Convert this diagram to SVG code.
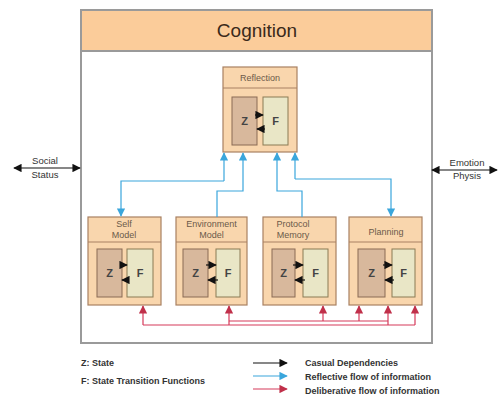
<svg xmlns="http://www.w3.org/2000/svg" width="498" height="400" viewBox="0 0 498 400">
<style>
text{font-family:"Liberation Sans",Arial,sans-serif;fill:#333}
.box{fill:#f9d6ad;stroke:#a88062;stroke-width:1.2}
.z{fill:#d8b89c;stroke:#8a6a55;stroke-width:1}
.f{fill:#e9e6c6;stroke:#8a7a55;stroke-width:1}
.hd{font-size:9px;fill:#6b5a4a}
.zf{font-size:11px;font-weight:bold;fill:#444}
.blue{stroke:#3aa6dc;stroke-width:1.2;fill:none}
.red{stroke:#d63a5a;stroke-width:1.2;fill:none}
.blk{stroke:#111;stroke-width:1.2;fill:none}
.leg{font-size:9px;font-weight:bold;fill:#333}
</style>
<defs>
<marker id="ab" viewBox="0 0 10 10" refX="9" refY="5" markerWidth="7" markerHeight="7" orient="auto"><path d="M0,0L10,5L0,10z" fill="#3aa6dc"/></marker>
<marker id="ar" viewBox="0 0 10 10" refX="9" refY="5" markerWidth="7" markerHeight="7" orient="auto"><path d="M0,0L10,5L0,10z" fill="#c0304a"/></marker>
<marker id="ak" viewBox="0 0 10 10" refX="9" refY="5" markerWidth="7" markerHeight="7" orient="auto"><path d="M0,0L10,5L0,10z" fill="#111"/></marker>
<marker id="aks" viewBox="0 0 10 10" refX="1" refY="5" markerWidth="7" markerHeight="7" orient="auto"><path d="M10,0L0,5L10,10z" fill="#111"/></marker>
</defs>
<rect width="498" height="400" fill="#fff"/>
<g id="cognition">
<rect x="81" y="10" width="351" height="333" fill="#fff" stroke="#9a9a9a" stroke-width="2"/>
<rect x="81" y="10" width="351" height="41" fill="#fbcc9a" stroke="#9a9a9a" stroke-width="2"/>
<text x="257" y="37" font-size="19" text-anchor="middle" style="fill:#3a2a1a">Cognition</text>
</g>
<g id="reflection">
<rect class="box" x="223" y="67" width="74" height="85"/>
<line x1="223" y1="88" x2="297" y2="88" stroke="#a88062"/>
<text class="hd" x="260" y="81" text-anchor="middle">Reflection</text>
<rect class="z" x="232" y="97" width="25" height="48"/>
<rect class="f" x="263" y="97" width="25" height="48"/>
<text class="zf" x="244.5" y="125" text-anchor="middle">Z</text>
<text class="zf" x="275.5" y="125" text-anchor="middle">F</text>
</g>
<g id="self-model">
<rect class="box" x="88" y="217" width="73" height="88"/>
<line x1="88" y1="242" x2="161" y2="242" stroke="#a88062"/>
<text class="hd" x="124" y="227" text-anchor="middle">Self</text>
<text class="hd" x="124" y="238" text-anchor="middle">Model</text>
<rect class="z" x="97" y="249" width="25" height="48"/>
<rect class="f" x="127" y="249" width="26" height="48"/>
<text class="zf" x="109.5" y="277" text-anchor="middle">Z</text>
<text class="zf" x="140" y="277" text-anchor="middle">F</text>
</g>
<g id="environment-model">
<rect class="box" x="176" y="217" width="71" height="88"/>
<line x1="176" y1="242" x2="247" y2="242" stroke="#a88062"/>
<text class="hd" x="211.5" y="227" text-anchor="middle">Environment</text>
<text class="hd" x="211.5" y="238" text-anchor="middle">Model</text>
<rect class="z" x="183" y="249" width="25" height="48"/>
<rect class="f" x="216" y="249" width="24" height="48"/>
<text class="zf" x="195.5" y="277" text-anchor="middle">Z</text>
<text class="zf" x="228" y="277" text-anchor="middle">F</text>
</g>
<g id="protocol-memory">
<rect class="box" x="263" y="217" width="73" height="88"/>
<line x1="263" y1="242" x2="336" y2="242" stroke="#a88062"/>
<text class="hd" x="293" y="227" text-anchor="middle">Protocol</text>
<text class="hd" x="293" y="238" text-anchor="middle">Memory</text>
<rect class="z" x="272" y="249" width="23" height="48"/>
<rect class="f" x="303" y="249" width="25" height="48"/>
<text class="zf" x="283.5" y="277" text-anchor="middle">Z</text>
<text class="zf" x="315.5" y="277" text-anchor="middle">F</text>
</g>
<g id="planning">
<rect class="box" x="349" y="217" width="73" height="88"/>
<line x1="349" y1="242" x2="422" y2="242" stroke="#a88062"/>
<text class="hd" x="386" y="235" text-anchor="middle">Planning</text>
<rect class="z" x="358" y="249" width="27" height="48"/>
<rect class="f" x="392" y="249" width="23" height="48"/>
<text class="zf" x="371.5" y="277" text-anchor="middle">Z</text>
<text class="zf" x="403.5" y="277" text-anchor="middle">F</text>
</g>
<g id="social-status">
<text x="45" y="164" font-size="9.5" text-anchor="middle">Social</text>
<text x="45" y="178" font-size="9.5" text-anchor="middle">Status</text>
</g>
<g id="emotion-physis">
<text x="467" y="166" font-size="9.5" text-anchor="middle">Emotion</text>
<text x="467" y="179" font-size="9.5" text-anchor="middle">Physis</text>
</g>
<g id="legend">
<text class="leg" x="81" y="366">Z: State</text>
<text class="leg" x="81" y="384">F: State Transition Functions</text>
<text class="leg" x="305" y="366">Casual Dependencies</text>
<text class="leg" x="305" y="380">Reflective flow of information</text>
<text class="leg" x="305" y="394">Deliberative flow of information</text>
</g>
<g id="connectors">
<!-- internal causal arrows -->
<line class="blk" x1="255" y1="115" x2="263" y2="115" marker-end="url(#ak)"/>
<line class="blk" x1="265" y1="129" x2="257" y2="129" marker-end="url(#ak)"/>
<line class="blk" x1="120" y1="265" x2="127" y2="265" marker-end="url(#ak)"/>
<line class="blk" x1="129" y1="280" x2="122" y2="280" marker-end="url(#ak)"/>
<line class="blk" x1="206" y1="265" x2="216" y2="265" marker-end="url(#ak)"/>
<line class="blk" x1="218" y1="280" x2="208" y2="280" marker-end="url(#ak)"/>
<line class="blk" x1="293" y1="265" x2="303" y2="265" marker-end="url(#ak)"/>
<line class="blk" x1="305" y1="280" x2="295" y2="280" marker-end="url(#ak)"/>
<line class="blk" x1="383" y1="265" x2="392" y2="265" marker-end="url(#ak)"/>
<line class="blk" x1="394" y1="280" x2="385" y2="280" marker-end="url(#ak)"/>
<!-- external -->
<line class="blk" x1="14" y1="168" x2="80" y2="168" marker-start="url(#aks)" marker-end="url(#ak)"/>
<line class="blk" x1="432" y1="170" x2="497" y2="170" marker-start="url(#aks)" marker-end="url(#ak)"/>
<!-- blue reflective -->
<path class="blue" d="M224,181 V153" marker-end="url(#ab)"/>
<path class="blue" d="M224,181 H121 V216" marker-end="url(#ab)"/>
<path class="blue" d="M217,217 V191 H243 V153" marker-end="url(#ab)"/>
<path class="blue" d="M302,217 V191 H277 V153" marker-end="url(#ab)"/>
<path class="blue" d="M295,179 V153" marker-end="url(#ab)"/>
<path class="blue" d="M295,179 H391 V216" marker-end="url(#ab)"/>
<!-- red deliberative -->
<path class="red" d="M143,325 H415"/>
<path class="red" d="M229,321 H388"/>
<path class="red" d="M143,325 V306" marker-end="url(#ar)"/>
<path class="red" d="M229,325 V306" marker-end="url(#ar)"/>
<path class="red" d="M323,321 V306" marker-end="url(#ar)"/>
<path class="red" d="M359,321 V306" marker-end="url(#ar)"/>
<path class="red" d="M388,325 V306" marker-end="url(#ar)"/>
<path class="red" d="M415,325 V306" marker-end="url(#ar)"/>
<!-- legend lines -->
<line class="blk" x1="253" y1="363" x2="287" y2="363" marker-end="url(#ak)"/>
<line class="blue" x1="253" y1="376" x2="287" y2="376" marker-end="url(#ab)"/>
<line class="red" x1="253" y1="389" x2="287" y2="389" marker-end="url(#ar)"/>
</g>
</svg>
